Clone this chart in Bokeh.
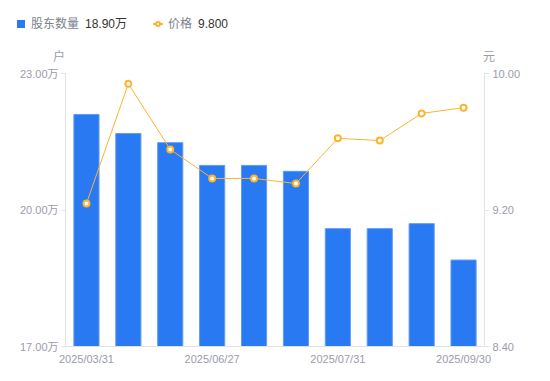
from bokeh.plotting import figure
from bokeh.layouts import column
from bokeh.models import Range1d, LinearAxis, FixedTicker, PrintfTickFormatter, Div
from bokeh.embed import file_html
from bokeh.resources import INLINE

# ---- data ----
xpos = [0, 1, 2, 3, 4, 5, 6, 7, 8, 9]
shareholders = [22.10, 21.68, 21.48, 20.98, 20.98, 20.85, 19.59, 19.59, 19.70, 18.90]  # 万户
price = [9.238, 9.940, 9.555, 9.385, 9.385, 9.355, 9.620, 9.607, 9.766, 9.800]          # 元
tick_pos = [0, 3, 6, 9]
tick_labels = ["2025/03/31", "2025/06/27", "2025/07/31", "2025/09/30"]
left_ticks = [17, 20, 23]
right_ticks = [8.4, 9.2, 10.0]

FONT = "Liberation Sans, Noto Sans CJK SC"
BLUE = "#2979f2"
ORANGE = "#fbb42e"
GRAY = "#9a9caa"
AXIS = "#e2e3e8"

HEAD = 66

# ---- legend / unit header ----
def span(style, text=""):
    return f'<span style="position:absolute;{style}">{text}</span>'

txt = "font-size:12px;line-height:16px;white-space:nowrap;"
html = (
    f'<div style="position:relative;width:550px;height:{HEAD}px;'
    f"font-family:'Liberation Sans','Noto Sans CJK SC',sans-serif;\">"
    + span(f"left:17px;top:20px;width:8px;height:8px;background:{BLUE};")
    + span(f"left:31px;top:16px;{txt}color:#7b7f8c;", "股东数量")
    + span(f"left:85px;top:16px;{txt}color:#333333;", f"{shareholders[-1]:.2f}万")
    + span(f"left:153px;top:23px;width:10px;height:2px;background:{ORANGE};")
    + span(f"left:155px;top:21px;width:6px;height:6px;box-sizing:border-box;"
           f"border:2px solid {ORANGE};border-radius:50%;background:white;")
    + span(f"left:168px;top:16px;{txt}color:#7b7f8c;", "价格")
    + span(f"left:198px;top:16px;{txt}color:#333333;", f"{price[-1]:.3f}")
    + span(f"left:53px;top:50px;font-size:12px;line-height:14px;color:{GRAY};", "户")
    + span(f"left:483px;top:50px;font-size:12px;line-height:14px;color:{GRAY};", "元")
    + "</div>"
)
head = Div(text=html, width=550, height=HEAD, margin=0)

# ---- main chart ----
p = figure(width=550, height=381 - HEAD, x_range=Range1d(-0.5, 9.5), y_range=Range1d(17, 23),
           toolbar_location=None, output_backend="svg", margin=0,
           min_border_left=65, min_border_right=66, min_border_top=73 - HEAD,
           min_border_bottom=35)
p.extra_y_ranges = {"price": Range1d(8.4, 10.0)}
p.grid.visible = False
p.outline_line_color = None

p.vbar(x=xpos, top=shareholders, bottom=17, width=0.6, fill_color=BLUE,
       line_color="#5e9bf5", line_width=1)
p.line(x=xpos, y=price, y_range_name="price", line_color=ORANGE, line_width=1)
p.scatter(x=xpos, y=price, y_range_name="price", size=6, fill_color="white",
          line_color=ORANGE, line_width=2)

def style_axis(ax):
    ax.axis_line_color = AXIS
    ax.major_tick_line_color = AXIS
    ax.minor_tick_line_color = None
    ax.major_label_text_color = GRAY
    ax.major_label_text_font = FONT
    ax.major_label_text_font_size = "11px"

xa = p.xaxis[0]
style_axis(xa)
xa.ticker = FixedTicker(ticks=tick_pos)
xa.major_label_overrides = {t: l for t, l in zip(tick_pos, tick_labels)}
xa.major_tick_line_color = None
xa.major_tick_out = 0
xa.major_tick_in = 0
xa.major_label_standoff = 6

ya = p.yaxis[0]
style_axis(ya)
ya.ticker = FixedTicker(ticks=left_ticks)
ya.formatter = PrintfTickFormatter(format="%.2f万")
ya.major_tick_out = 4
ya.major_tick_in = 0
ya.major_label_standoff = 3

ra = LinearAxis(y_range_name="price", ticker=FixedTicker(ticks=right_ticks),
                formatter=PrintfTickFormatter(format="%.2f"))
style_axis(ra)
ra.major_tick_out = 5
ra.major_tick_in = 0
ra.major_label_standoff = 3
p.add_layout(ra, "right")

layout = column(head, p, spacing=0)
open("out.html", "w").write(file_html(layout, INLINE))
